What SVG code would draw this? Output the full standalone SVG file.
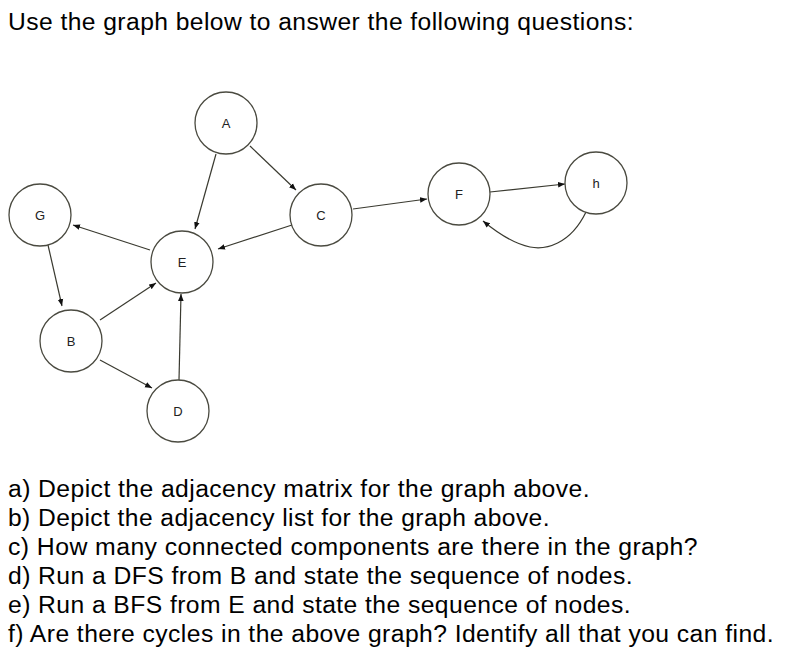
<svg xmlns="http://www.w3.org/2000/svg" width="789" height="651" viewBox="0 0 789 651">
<style>
.n{fill:#fff;stroke:#4a4a40;stroke-width:1.3}
.l{font-family:"Liberation Sans",Arial,sans-serif;font-size:13px;fill:#222;text-anchor:middle}
.e{stroke:#3a3a30;stroke-width:1.2;fill:none;marker-end:url(#a)}
.t{font-family:"Liberation Sans",Arial,sans-serif;font-size:23px;fill:#000;letter-spacing:0.4px}
</style>
<defs><marker id="a" viewBox="0 0 10 10" refX="10" refY="5" markerWidth="7" markerHeight="7" orient="auto" markerUnits="userSpaceOnUse"><path d="M0,1L10,5L0,9z" fill="#111"/></marker></defs>
<rect width="789" height="651" fill="#fff"/>
<text class="t" x="8" y="30" textLength="626" lengthAdjust="spacingAndGlyphs">Use the graph below to answer the following questions:</text>
<g id="edges">
<path class="e" d="M216,154L195,229"/>
<path class="e" d="M250,146L296,190"/>
<path class="e" d="M292,225L218,249"/>
<path class="e" d="M150,250L73,225"/>
<path class="e" d="M48,245L62,306"/>
<path class="e" d="M100,320L156,283"/>
<path class="e" d="M100,360L152,388"/>
<path class="e" d="M179,380L181,294"/>
<path class="e" d="M353,209L427,199"/>
<path class="e" d="M490,192L565,184"/>
<path class="e" d="M586,212C570,245 545,250 530,247C515,244 500,235 483,221"/>
</g>
<g id="A"><circle class="n" cx="226" cy="123" r="31"/><text class="l" x="226" y="128">A</text></g>
<g id="G"><circle class="n" cx="40" cy="215" r="31"/><text class="l" x="40" y="220">G</text></g>
<g id="C"><circle class="n" cx="321" cy="215" r="31"/><text class="l" x="321" y="220">C</text></g>
<g id="E"><circle class="n" cx="182" cy="262" r="31"/><text class="l" x="182" y="267">E</text></g>
<g id="B"><circle class="n" cx="71" cy="341" r="31"/><text class="l" x="71" y="346">B</text></g>
<g id="D"><circle class="n" cx="178" cy="411" r="31"/><text class="l" x="178" y="416">D</text></g>
<g id="F"><circle class="n" cx="459" cy="194" r="31"/><text class="l" x="459" y="199">F</text></g>
<g id="h"><circle class="n" cx="596" cy="183" r="31"/><text class="l" x="596" y="188">h</text></g>
<text class="t" x="8" y="497" textLength="582" lengthAdjust="spacingAndGlyphs">a) Depict the adjacency matrix for the graph above.</text>
<text class="t" x="8" y="526" textLength="542" lengthAdjust="spacingAndGlyphs">b) Depict the adjacency list for the graph above.</text>
<text class="t" x="8" y="555" textLength="690" lengthAdjust="spacingAndGlyphs">c) How many connected components are there in the graph?</text>
<text class="t" x="8" y="584" textLength="625" lengthAdjust="spacingAndGlyphs">d) Run a DFS from B and state the sequence of nodes.</text>
<text class="t" x="8" y="613" textLength="623" lengthAdjust="spacingAndGlyphs">e) Run a BFS from E and state the sequence of nodes.</text>
<text class="t" x="8" y="642" textLength="766" lengthAdjust="spacingAndGlyphs">f) Are there cycles in the above graph? Identify all that you can find.</text>
</svg>
